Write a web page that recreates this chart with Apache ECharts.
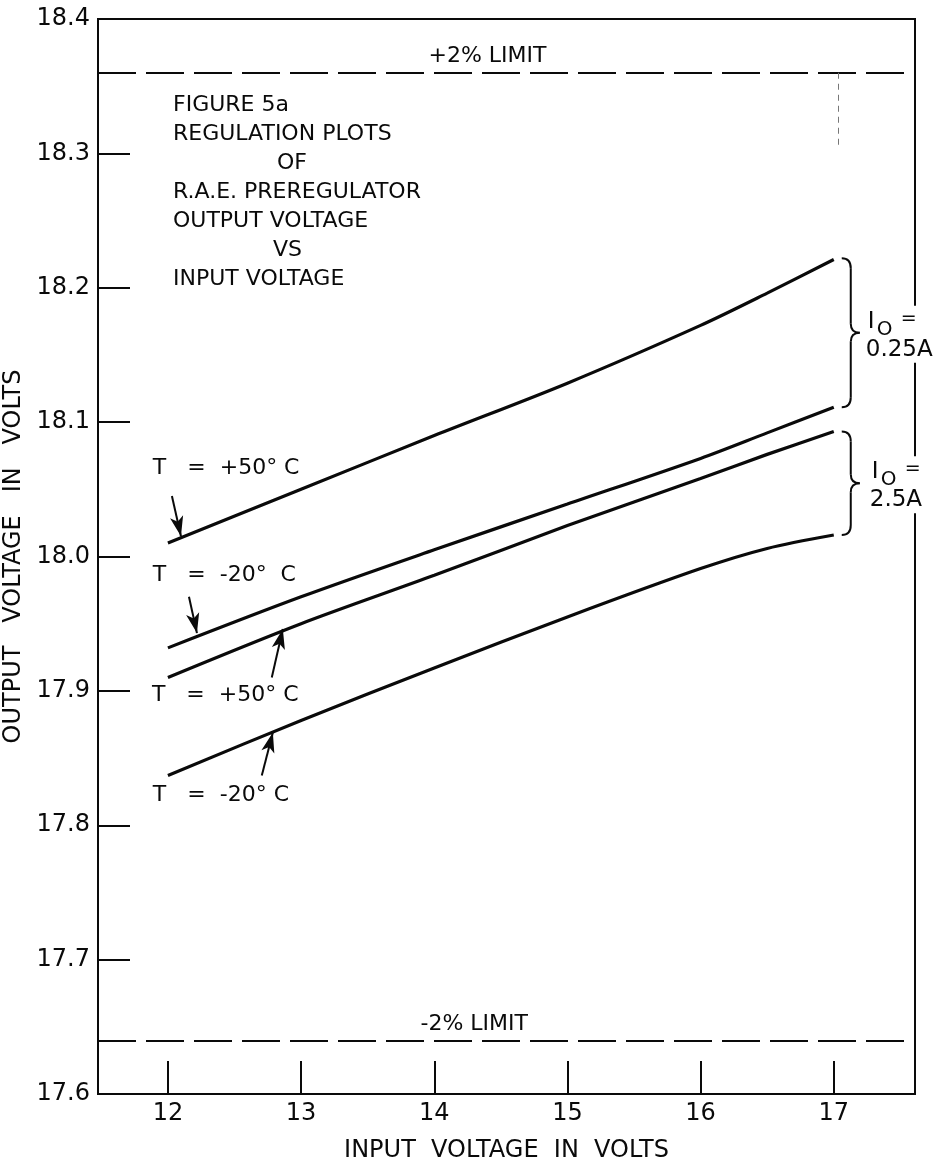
<!DOCTYPE html>
<html>
<head>
<meta charset="utf-8">
<script src="https://cdn.jsdelivr.net/npm/echarts@6/dist/echarts.min.js"></script>
<style>
  html, body { margin: 0; padding: 0; background: #fff; }
  #container { width: 938px; height: 1163px; }
</style>
</head>
<body>
<div id="container"></div>
<script>
// input voltage (V) where the curves were read
var inputVolts = [12, 13, 14, 15, 16, 16.5, 17];
// output voltage (V) for each curve
var out025Plus50 = [18.010, 18.050, 18.090, 18.129, 18.172, 18.196, 18.221];
var out025Minus20 = [17.932, 17.970, 18.005, 18.039, 18.073, 18.092, 18.111];
var out25Plus50 = [17.910, 17.950, 17.986, 18.023, 18.058, 18.076, 18.093];
var out25Minus20 = [17.837, 17.878, 17.917, 17.955, 17.991, 18.006, 18.016];
var limits = [18.36, 17.64];
var xTicks = [12, 13, 14, 15, 16, 17];

var FONT = "DejaVu Sans";
var INK = "#0a0a0a";

var dom = document.getElementById("container");
var myChart = echarts.init(dom, null, { renderer: "canvas" });

function curve(name, vals) {
  return {
    name: name,
    type: "line",
    data: inputVolts.map(function (x, i) { return [x, vals[i]]; }),
    smooth: 0.3,
    symbol: "none",
    lineStyle: { color: INK, width: 3.2 },
    z: 3,
  };
}

// arrows pointing at the curves: [from, to] in data units
var arrows = [
  [[12.03, 18.045], [12.098, 18.015]],
  [[12.158, 17.970], [12.218, 17.943]],
  [[12.78, 17.910], [12.863, 17.946]],
  [[12.705, 17.837], [12.788, 17.869]],
];

var option = {
  animation: false,
  backgroundColor: "#fff",
  grid: {
    left: 98,
    right: 23,
    top: 19,
    bottom: 69,
    containLabel: false,
    outerBoundsMode: "none",
    show: true,
    borderColor: INK,
    borderWidth: 2,
  },
  xAxis: {
    type: "value",
    min: 11.475,
    max: 17.61,
    name: "INPUT  VOLTAGE  IN  VOLTS",
    nameLocation: "middle",
    nameGap: 45,
    nameTextStyle: { fontFamily: FONT, fontSize: 24, color: INK },
    axisLine: { lineStyle: { color: INK, width: 2 } },
    axisTick: {
      inside: true,
      length: 33,
      customValues: xTicks,
      lineStyle: { color: INK, width: 2 },
    },
    axisLabel: {
      customValues: xTicks,
      margin: 8,
      fontFamily: FONT,
      fontSize: 24,
      color: INK,
    },
    splitLine: { show: false },
  },
  yAxis: {
    type: "value",
    min: 17.6,
    max: 18.4,
    interval: 0.1,
    name: "OUTPUT   VOLTAGE   IN   VOLTS",
    nameLocation: "middle",
    nameGap: 64,
    nameTextStyle: { fontFamily: FONT, fontSize: 24, color: INK },
    axisLine: { lineStyle: { color: INK, width: 2 } },
    axisTick: { inside: true, length: 32, lineStyle: { color: INK, width: 2 } },
    axisLabel: {
      margin: 8,
      fontFamily: FONT,
      fontSize: 24,
      color: INK,
      formatter: function (v) { return v.toFixed(1); },
    },
    splitLine: { show: false },
  },
  series: [
    curve("0.25A +50C", out025Plus50),
    curve("0.25A -20C", out025Minus20),
    curve("2.5A +50C", out25Plus50),
    curve("2.5A -20C", out25Minus20),
    {
      name: "limits",
      type: "line",
      data: [],
      markLine: {
        silent: true,
        symbol: "none",
        label: { show: false },
        lineStyle: { color: INK, width: 2, type: [38, 10] },
        data: limits.map(function (v) { return { yAxis: v }; }),
      },
    },
    {
      name: "marks",
      type: "line",
      data: [],
      markLine: {
        silent: true,
        symbol: "none",
        label: { show: false },
        lineStyle: { color: "#777", width: 1, type: [6, 5] },
        data: [[{ coord: [17.035, 18.36] }, { coord: [17.035, 18.305] }]],
      },
    },
    {
      name: "arrows",
      type: "line",
      data: [],
      markLine: {
        silent: true,
        symbol: ["none", "arrow"],
        symbolSize: [0, 18],
        label: { show: false },
        lineStyle: { color: INK, width: 2, type: "solid" },
        data: arrows.map(function (a) {
          return [{ coord: a[0] }, { coord: a[1], symbolSize: [10, 20] }];
        }),
      },
    },
  ],
};

myChart.setOption(option);

// annotations placed from data coordinates
function px(pt) { return myChart.convertToPixel({ gridIndex: 0 }, pt); }

function txt(text, x, y, size, align) {
  return {
    type: "text",
    x: x,
    y: y,
    z: 20,
    style: {
      text: text,
      fontFamily: FONT,
      fontSize: size,
      fill: INK,
      align: align || "left",
      verticalAlign: "middle",
    },
  };
}

function seg(x1, y1, x2, y2) {
  return {
    type: "line", z: 20,
    shape: { x1: x1, y1: y1, x2: x2, y2: y2 },
    style: { stroke: INK, lineWidth: 2 },
  };
}

function quad(x1, y1, cx, cy, x2, y2) {
  return {
    type: "bezierCurve", z: 20,
    shape: { x1: x1, y1: y1, cpx1: cx, cpy1: cy, x2: x2, y2: y2 },
    style: { stroke: INK, lineWidth: 2, fill: null },
  };
}

var tempLabels = [
  ["T   =  +50° C", 11.887, 18.066],
  ["T   =  -20°  C", 11.887, 17.986],
  ["T   =  +50° C", 11.88, 17.897],
  ["T   =  -20° C", 11.887, 17.822],
];

var braces = [
  { x: 17.06, top: 18.222, bottom: 18.111, value: "0.25A", dx: 0 },
  { x: 17.06, top: 18.093, bottom: 18.016, value: "2.5A", dx: 4 },
];

var titleLines = [
  ["FIGURE 5a", 173],
  ["REGULATION PLOTS", 173],
  ["OF", 277],
  ["R.A.E. PREREGULATOR", 173],
  ["OUTPUT VOLTAGE", 173],
  ["VS", 273],
  ["INPUT VOLTAGE", 173],
];

var g = [];

titleLines.forEach(function (t, i) {
  g.push(txt(t[0], t[1], 105 + i * 29, 22));
});

var upLim = px([14.4, 18.372]);
g.push(txt("+2% LIMIT", upLim[0], upLim[1], 22, "center"));
var loLim = px([14.3, 17.652]);
g.push(txt("-2% LIMIT", loLim[0], loLim[1], 22, "center"));

tempLabels.forEach(function (t) {
  var p = px([t[1], t[2]]);
  g.push(txt(t[0], p[0], p[1], 22));
});

braces.forEach(function (b) {
  var a = px([b.x, b.top]);
  var c = px([b.x, b.bottom]);
  var x0 = a[0], y0 = a[1], y1 = c[1];
  var s = x0 + 9, tip = x0 + 18, m = (y0 + y1) / 2;
  g.push({
    type: "rect",
    z: 19,
    shape: { x: tip + 3, y: m - 27, width: 938 - tip - 3, height: 57 },
    style: { fill: "#fff" },
  });
  g.push(quad(x0, y0, s, y0, s, y0 + 10));
  g.push(seg(s, y0 + 10, s, m - 9));
  g.push(quad(s, m - 9, s, m, tip, m));
  g.push(quad(tip, m, s, m, s, m + 9));
  g.push(seg(s, m + 9, s, y1 - 10));
  g.push(quad(s, y1 - 10, s, y1, x0, y1));
  var lx = tip + b.dx;
  g.push(txt("I", lx + 8, m - 11, 23));
  g.push(txt("O", lx + 17, m - 3, 20));
  g.push(txt("=", lx + 41, m - 14, 19));
  g.push(txt(b.value, lx + 6, m + 17, 23));
});

myChart.setOption({ graphic: g });

window.addEventListener("resize", myChart.resize);
</script>
</body>
</html>
